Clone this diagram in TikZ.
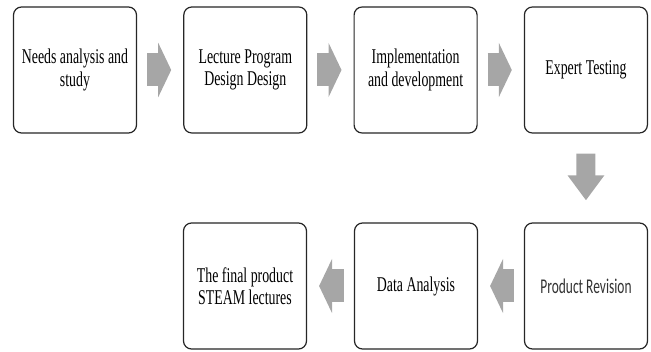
\documentclass[tikz,border=0pt]{standalone}
\usepackage{fontspec}
\setmainfont[FakeStretch=0.66]{Liberation Serif}
\newfontfamily\revfont[FakeStretch=0.64]{Carlito}
\usetikzlibrary{arrows.meta, calc}
\definecolor{cframe}{HTML}{262626}
\definecolor{carrow}{HTML}{A6A6A6}
\tikzset{
  every picture/.style={x=1pt, y=1pt},
  stage/.style={draw=cframe, fill=white, rounded corners=8pt, line width=1.2pt, align=center,
    minimum width=123pt, minimum height=126pt, inner sep=2pt, font=\fontsize{21}{22.5}\selectfont},
  flow/.style={draw=carrow, line width=33pt, -{Triangle[length=13pt, width=54pt]}},
  flowdown/.style={draw=carrow, line width=19pt, -{Triangle[length=25pt, width=35pt]}},
}

\begin{document}
\begin{tikzpicture}
  \useasboundingbox (0,0) rectangle (651,351);
  % upper row, left to right
  \foreach \t [count=\i] in {{Needs analysis and\\study}, {Lecture Program\\Design Design}, {Implementation\\and development}, {Expert Testing}}
    \node[stage] (t\i) at ({75+(\i-1)*170.3}, 281) {\t};
  % lower row, right to left
  \node[stage] (r1) at (586, 65) {\revfont\color{black!80} Product Revision};
  \node[stage] (r2) at (416, 65) {Data Analysis};
  \node[stage] (r3) at (245, 65) {The final product\\STEAM lectures};

  \foreach \a/\b in {t1/t2, t2/t3, t3/t4, r1/r2, r2/r3}
    \draw[flow, shorten <=10pt, shorten >=12pt] (\a) -- (\b);
  \draw[flowdown, shorten <=20pt, shorten >=22pt] (t4) -- (r1);
\end{tikzpicture}
\end{document}
